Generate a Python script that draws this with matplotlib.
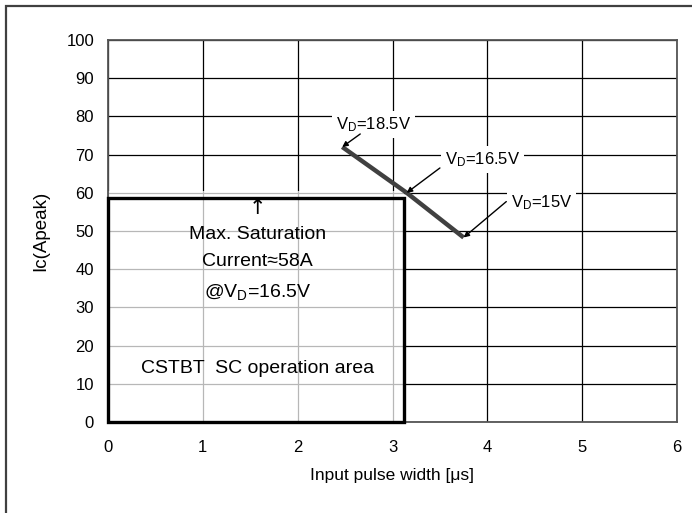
import matplotlib
matplotlib.use("Agg")
import matplotlib.pyplot as plt
from matplotlib.patches import Rectangle

plt.rcParams["font.family"] = ["Liberation Sans", "DejaVu Sans"]
plt.rcParams["mathtext.fontset"] = "custom"
plt.rcParams["mathtext.rm"] = "Liberation Sans"
plt.rcParams["mathtext.default"] = "regular"

# Short-circuit limit curve: peak collector current vs. input pulse width
pulse_width = [2.47, 3.15, 3.75]     # us
ic_peak = [72.0, 60.0, 48.3]         # A
vd_labels = ["V$_{D}$=18.5V", "V$_{D}$=16.5V", "V$_{D}$=15V"]

# Safe operation area
area_width = 3.12                    # us
sat_current = 58.7                   # A

x_ticks = [0, 1, 2, 3, 4, 5, 6]
y_ticks = [0, 10, 20, 30, 40, 50, 60, 70, 80, 90, 100]

fig = plt.figure(figsize=(6.92, 5.13), dpi=100)
ax = fig.add_axes([108 / 692, 1 - 422 / 513, (677 - 108) / 692, (422 - 40) / 513])

ax.set_xlim(0, 6)
ax.set_ylim(0, 100)
ax.set_xticks(x_ticks)
ax.set_yticks(y_ticks)
ax.tick_params(length=0, labelsize=12, colors="black")
ax.tick_params(axis="x", pad=13)
ax.tick_params(axis="y", pad=10)
ax.grid(True, color="black", linewidth=0.9, zorder=0)
ax.set_axisbelow(True)
for s in ax.spines.values():
    s.set_color("#555555")
    s.set_linewidth(1.3)

ax.set_xlabel("Input pulse width [μs]", fontsize=12.5, labelpad=9)
ax.set_ylabel("Ic(Apeak)", fontsize=13.5, labelpad=12)

# Faded grid inside the operation area
ax.add_patch(Rectangle((0, 0), area_width, 60.5, facecolor="white",
                       edgecolor="none", alpha=0.72, zorder=1))
ax.add_patch(Rectangle((0, 0), area_width, sat_current, facecolor="none",
                       edgecolor="black", linewidth=2.4, zorder=3,
                       clip_on=False))

ax.plot(pulse_width, ic_peak, color="#404040", linewidth=3.2,
        solid_capstyle="butt", zorder=4)

cx = 1.58
ax.text(cx, 56, "↑", ha="center", va="center", fontsize=15,
        family="DejaVu Sans", zorder=5)
ax.text(cx, 49.2, "Max. Saturation", ha="center", va="center", fontsize=14, zorder=5)
ax.text(cx, 41.9, "Current≈58A", ha="center", va="center", fontsize=14, zorder=5)
ax.text(cx, 34.0, "@V$_{D}$=16.5V", ha="center", va="center", fontsize=14, zorder=5)
ax.text(cx, 13.9, "CSTBT  SC operation area", ha="center", va="center",
        fontsize=14, zorder=5)

# Supply-voltage annotations
label_pos = [(2.8, 77.8), (3.95, 68.6), (4.57, 57.3)]
arrow_from = [(2.66, 75.4), (3.5, 66.5), (4.2, 57.7)]
bbox = dict(boxstyle="square,pad=0.25", facecolor="white", edgecolor="none")
for lbl, (tx, ty) in zip(vd_labels, label_pos):
    ax.text(tx, ty, lbl, ha="center", va="center", fontsize=12,
            bbox=bbox, zorder=6)
for (px, py), x, y in zip(arrow_from, pulse_width, ic_peak):
    ax.annotate("", xy=(x, y), xytext=(px, py),
                arrowprops=dict(arrowstyle="-|>", color="black", lw=1.0,
                                mutation_scale=8, shrinkA=0, shrinkB=0),
                zorder=6)

# Outer frame
fig.add_artist(Rectangle((6 / 692, -0.1), 1.2, 1 - 6 / 513 + 0.1,
                         transform=fig.transFigure, facecolor="none",
                         edgecolor="#404040", linewidth=1.6))

fig.savefig("out.png", dpi=100)
